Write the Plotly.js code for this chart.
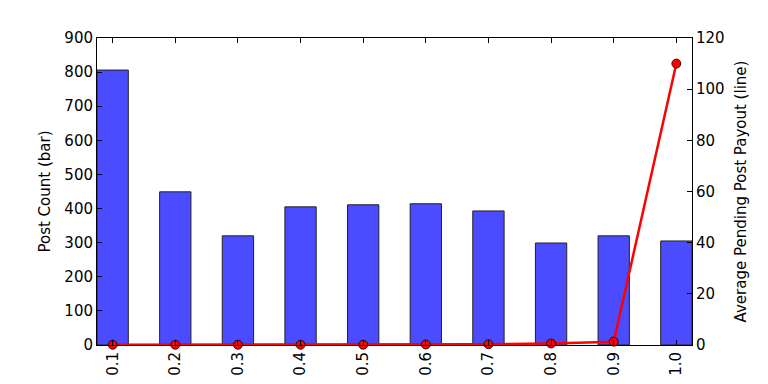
<!DOCTYPE html>
<html>
<head>
<meta charset="utf-8">
<script src="https://cdn.plot.ly/plotly-3.0.1.min.js"></script>
<style>html,body{margin:0;padding:0;background:#fff;}#chart{width:768px;height:384px;}</style>
</head>
<body>
<div id="chart"></div>
<script>
const categories = ['0.1','0.2','0.3','0.4','0.5','0.6','0.7','0.8','0.9','1.0'];
const postCount = [806, 449, 320, 405, 411, 414, 393, 299, 320, 305];
const avgPayout = [0.1, 0.1, 0.1, 0.1, 0.1, 0.2, 0.3, 0.6, 1.3, 110];

const font = {family: 'DejaVu Sans', size: 15, color: '#000'};

const traces = [
  {
    type: 'bar', x: categories, y: postCount, yaxis: 'y', width: 0.5,
    marker: {color: '#4b4bff', line: {color: '#222', width: 1}},
    hoverinfo: 'skip'
  },
  {
    type: 'scatter', mode: 'lines+markers', x: categories, y: avgPayout, yaxis: 'y2',
    line: {color: '#ff0000', width: 2.5},
    marker: {color: '#ff0000', size: 9, line: {color: '#000', width: 0.8}},
    cliponaxis: false
  }
];

const layout = {
  width: 768, height: 384,
  margin: {l: 97, r: 76, t: 38, b: 39},
  paper_bgcolor: '#fff', plot_bgcolor: '#fff',
  showlegend: false,
  font: font,
  xaxis: {
    type: 'category', range: [-0.25, 9.25],
    showline: true, linecolor: '#000', linewidth: 1, mirror: 'ticks',
    ticks: 'inside', ticklen: 5, tickcolor: '#000',
    tickangle: -90, showgrid: false, zeroline: false,
    tickfont: font
  },
  yaxis: {
    range: [0, 900], dtick: 100,
    showline: true, linecolor: '#000', linewidth: 1, mirror: true,
    ticks: 'inside', ticklen: 5, tickcolor: '#000',
    showgrid: false, zeroline: false, tickfont: font,
    title: {text: 'Post Count (bar)', font: font, standoff: 10}
  },
  yaxis2: {
    overlaying: 'y', side: 'right', range: [0, 120], dtick: 20,
    showline: true, linecolor: '#000', linewidth: 1,
    ticks: 'inside', ticklen: 5, tickcolor: '#000',
    showgrid: false, zeroline: false, tickfont: font,
    title: {text: 'Average Pending Post Payout (line)', font: font, standoff: 11}
  }
};

Plotly.newPlot('chart', traces, layout, {staticPlot: true});
</script>
</body>
</html>
